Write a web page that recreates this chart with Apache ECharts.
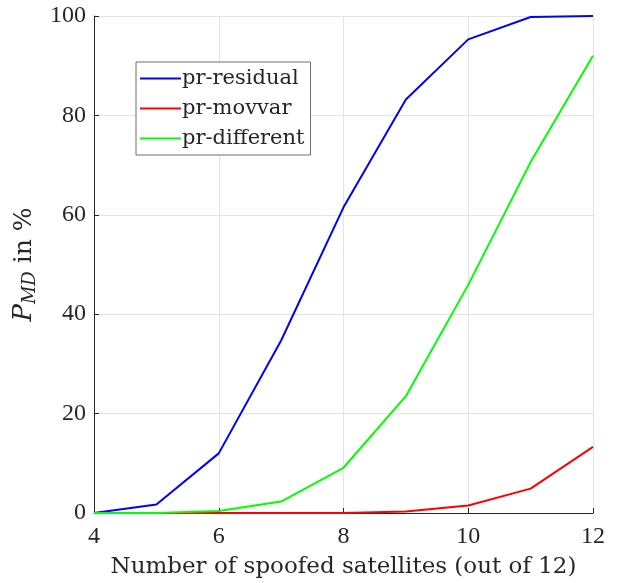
<!DOCTYPE html>
<html>
<head>
<meta charset="utf-8">
<script src="https://cdn.jsdelivr.net/npm/echarts@6/dist/echarts.min.js"></script>
<style>
  html, body { margin: 0; padding: 0; background: #fff; }
  .chart { width: 621px; height: 583px; }
</style>
</head>
<body>
<div class="chart"></div>
<script>
// data
var satellites = [4, 5, 6, 7, 8, 9, 10, 11, 12];
var prResidual = [0, 1.7, 12.0, 34.7, 61.5, 83.2, 95.3, 99.8, 100];
var prMovvar = [0, 0, 0, 0, 0, 0.3, 1.5, 4.9, 13.3];
var prDifferent = [0, 0, 0.4, 2.3, 9.1, 23.5, 45.9, 70.6, 92.0];
var yTicks = [0, 20, 40, 60, 80, 100];

(function() {
  var myChart = echarts.init(document.querySelector(".chart"));
  var font = "Liberation Serif";
  var wide = "DejaVu Serif";
  function pairs(arr) {
    return satellites.map(function(x, i) { return [x, arr[i]]; });
  }
  var option = {
    animation: false,
    textStyle: { fontFamily: font },
    grid: { left: 94, right: 28, top: 16, bottom: 70, outerBoundsMode: "none" },
    legend: {
      orient: "vertical",
      left: 136,
      top: 62,
      icon: "rect",
      itemWidth: 41,
      itemHeight: 2,
      itemGap: 9,
      padding: [6, 6, 6, 4],
      borderColor: "#6e6e6e",
      borderWidth: 1,
      backgroundColor: "#fff",
      textStyle: { fontFamily: wide, fontSize: 21, color: "#262626", padding: [0, 0, 0, -4] },
      data: ["pr-residual", "pr-movvar", "pr-different"]
    },
    xAxis: {
      type: "value",
      min: 4,
      max: 12,
      interval: 2,
      name: "Number of spoofed satellites (out of 12)",
      nameLocation: "middle",
      nameGap: 43,
      nameTextStyle: { fontFamily: wide, fontSize: 23, color: "#262626" },
      axisLine: { onZero: false, lineStyle: { color: "#262626", width: 1 } },
      axisTick: { inside: true, length: 5, lineStyle: { color: "#262626" } },
      axisLabel: { fontFamily: font, fontSize: 24, color: "#262626", margin: 12 },
      splitLine: { show: true, lineStyle: { color: "#e3e3e3", width: 1 } }
    },
    yAxis: {
      type: "value",
      min: 0,
      max: 100,
      interval: 20,
      name: "{p|P}{sub|MD}{t| in %}",
      nameLocation: "middle",
      nameRotate: 90,
      nameGap: 50,
      nameTextStyle: {
        fontFamily: wide, fontSize: 25, color: "#262626",
        rich: {
          p: { fontFamily: wide, fontSize: 26, fontStyle: "italic", color: "#262626" },
          sub: { fontFamily: wide, fontSize: 18, fontStyle: "italic", color: "#262626", verticalAlign: "bottom", padding: [12, 0, 0, 0] },
          t: { fontFamily: wide, fontSize: 25, color: "#262626" }
        }
      },
      axisLine: { show: true, lineStyle: { color: "#262626", width: 1 } },
      axisTick: { show: true, inside: true, length: 5, lineStyle: { color: "#262626" } },
      axisLabel: {
        fontFamily: font, fontSize: 24, color: "#262626", margin: 8,
        formatter: function(v) { return yTicks.indexOf(v) >= 0 ? String(v) : ""; }
      },
      splitLine: { show: true, lineStyle: { color: "#e3e3e3", width: 1 } }
    },
    series: [
      { name: "pr-residual", type: "line", symbol: "none", color: "#0000ff", lineStyle: { width: 2 }, data: pairs(prResidual) },
      { name: "pr-movvar", type: "line", symbol: "none", color: "#ff0000", lineStyle: { width: 2 }, data: pairs(prMovvar) },
      { name: "pr-different", type: "line", symbol: "none", color: "#00ff00", lineStyle: { width: 2 }, data: pairs(prDifferent) }
    ]
  };
  myChart.setOption(option);
  window.addEventListener("resize", function() {
    myChart.resize();
  });
})();
</script>
</body>
</html>
